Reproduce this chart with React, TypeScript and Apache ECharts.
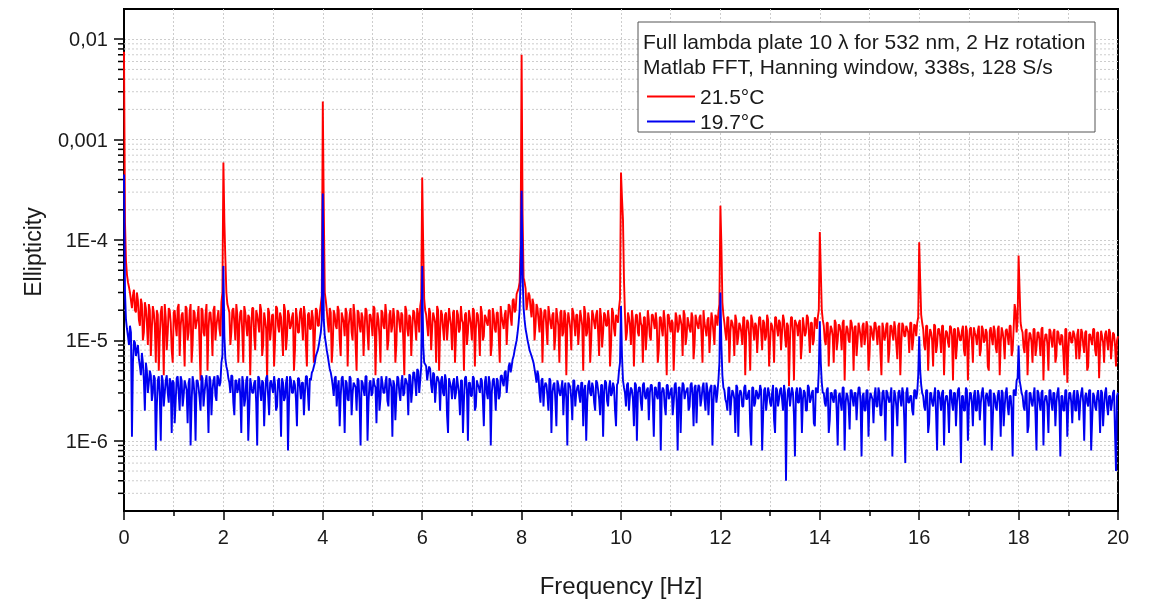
import React, { useEffect, useRef } from 'react';
import * as echarts from 'echarts';

// Ellipticity values in units of 1e-7.
// Each segment spans 2 Hz; "Seg" holds the samples on the segment grid, "Mid" the samples half a step later.
const UNIT = 1e-7;
const SEG_WIDTH_HZ = 2;

const redSeg0 = [75000, 620, 380, 300, 210, 320, 190, 250, 140, 230, 120, 210, 90, 200, 130, 190, 60, 180, 110, 220, 45, 170, 120, 200, 80, 190, 140, 210, 70, 180, 120, 220, 100, 190, 60, 200, 130, 170, 90, 210, 120, 180, 50, 190, 140, 200, 100, 170, 130, 240];
const redSeg1 = [5900, 640, 230, 190, 120, 210, 100, 180, 140, 200, 60, 190, 110, 170, 130, 210, 80, 180, 120, 200, 90, 160, 40, 190, 130, 180, 100, 210, 120, 170, 70, 200, 110, 180, 140, 190, 80, 170, 120, 210, 100, 180, 55, 190, 130, 170, 110, 200, 140, 230];
const redSeg2 = [24000, 300, 200, 120, 190, 90, 180, 130, 200, 70, 170, 110, 190, 140, 210, 100, 180, 50, 190, 120, 170, 130, 200, 80, 180, 110, 210, 120, 160, 60, 190, 130, 180, 100, 200, 140, 170, 90, 190, 120, 180, 45, 200, 110, 170, 130, 190, 100, 180, 220];
const redSeg3 = [4200, 260, 180, 110, 190, 130, 170, 60, 200, 120, 180, 100, 190, 140, 170, 80, 200, 110, 180, 130, 160, 50, 190, 120, 170, 100, 200, 130, 180, 70, 190, 110, 170, 140, 200, 90, 180, 120, 190, 60, 170, 130, 200, 150, 220, 140, 260, 200, 310, 380];
const redSeg4 = [70000, 420, 330, 240, 280, 170, 230, 140, 210, 120, 190, 150, 200, 90, 180, 130, 190, 110, 170, 60, 200, 120, 180, 140, 160, 80, 190, 110, 180, 130, 170, 50, 190, 120, 160, 100, 180, 130, 200, 70, 170, 120, 180, 140, 160, 90, 190, 110, 170, 210];
const redSeg5 = [4700, 1600, 180, 120, 170, 90, 160, 130, 180, 110, 150, 60, 170, 120, 160, 100, 180, 130, 150, 80, 170, 110, 160, 45, 180, 120, 150, 100, 170, 130, 160, 70, 180, 110, 150, 120, 170, 90, 160, 130, 180, 60, 150, 110, 170, 120, 160, 90, 170, 190];
const redSeg6 = [2200, 240, 150, 100, 170, 120, 150, 70, 160, 110, 140, 90, 170, 120, 150, 50, 160, 100, 140, 120, 170, 80, 150, 110, 160, 95, 140, 60, 170, 110, 150, 120, 160, 85, 140, 100, 170, 40, 150, 110, 160, 90, 140, 120, 170, 75, 150, 100, 160, 170];
const redSeg7 = [1200, 200, 140, 90, 150, 110, 130, 60, 150, 100, 140, 80, 160, 110, 130, 95, 150, 50, 140, 100, 130, 85, 150, 110, 140, 70, 130, 100, 150, 90, 140, 45, 130, 110, 150, 80, 140, 100, 130, 65, 150, 95, 140, 110, 130, 75, 150, 100, 140, 150];
const redSeg8 = [950, 180, 130, 80, 140, 100, 120, 55, 140, 90, 130, 75, 140, 100, 120, 85, 135, 40, 130, 90, 120, 100, 140, 70, 125, 95, 135, 60, 120, 90, 140, 80, 130, 100, 120, 50, 135, 90, 125, 75, 140, 95, 120, 65, 130, 90, 140, 80, 230, 120];
const redSeg9 = [700, 150, 120, 75, 130, 90, 115, 60, 130, 85, 120, 70, 135, 95, 115, 50, 125, 85, 130, 70, 120, 90, 110, 45, 130, 80, 120, 95, 115, 65, 130, 85, 120, 75, 125, 55, 115, 90, 130, 70, 120, 85, 110, 60, 125, 80, 120, 90, 115, 55, 110];

const redMid0 = [1500, 450, 340, 250, 280, 200, 300, 160, 260, 100, 240, 150, 230, 70, 220, 140, 200, 50, 190, 130, 230, 80, 210, 150, 60, 200, 110, 230, 140, 190, 55, 210, 120, 230, 90, 190, 150, 220, 40, 200, 110, 230, 130, 190, 70, 220, 140, 200, 110, 300];
const redMid1 = [1500, 300, 210, 90, 200, 150, 230, 60, 190, 120, 220, 140, 180, 45, 210, 110, 200, 150, 230, 70, 190, 130, 210, 100, 180, 55, 220, 140, 190, 110, 230, 80, 200, 130, 170, 50, 210, 120, 190, 150, 220, 90, 180, 130, 200, 60, 210, 140, 190, 280];
const redMid2 = [2000, 250, 150, 210, 60, 200, 140, 220, 100, 190, 150, 210, 55, 180, 120, 230, 90, 200, 140, 190, 70, 210, 120, 180, 150, 220, 45, 190, 110, 200, 140, 230, 80, 180, 120, 210, 60, 200, 150, 190, 100, 220, 130, 180, 70, 200, 140, 210, 120, 260];
const redMid3 = [900, 200, 140, 210, 80, 190, 150, 220, 50, 200, 130, 180, 100, 210, 140, 190, 60, 200, 120, 220, 150, 180, 90, 200, 140, 210, 55, 190, 130, 220, 100, 180, 150, 200, 70, 210, 130, 190, 110, 220, 150, 180, 90, 230, 170, 250, 190, 290, 330, 900];
const redMid4 = [1800, 380, 200, 300, 210, 260, 100, 230, 160, 210, 60, 200, 130, 220, 150, 180, 80, 210, 140, 190, 110, 200, 45, 190, 130, 210, 150, 180, 90, 200, 140, 220, 110, 190, 60, 200, 150, 180, 120, 210, 85, 190, 140, 200, 55, 210, 130, 180, 150, 260];
const redMid5 = [2600, 400, 100, 190, 140, 200, 55, 180, 120, 190, 140, 170, 80, 200, 110, 180, 150, 190, 60, 170, 130, 200, 100, 180, 140, 160, 50, 190, 120, 180, 140, 200, 90, 170, 130, 190, 65, 180, 140, 170, 110, 200, 130, 160, 75, 190, 120, 180, 140, 230];
const redMid6 = [900, 180, 120, 170, 60, 160, 130, 180, 90, 150, 120, 170, 45, 160, 110, 180, 130, 150, 75, 170, 120, 160, 100, 180, 55, 150, 120, 170, 130, 160, 80, 180, 110, 150, 35, 170, 120, 160, 140, 150, 65, 170, 110, 180, 120, 150, 90, 170, 130, 200];
const redMid7 = [500, 160, 100, 150, 55, 140, 110, 160, 80, 145, 120, 150, 40, 140, 100, 160, 120, 135, 70, 150, 110, 140, 90, 155, 50, 140, 110, 150, 120, 135, 75, 150, 100, 145, 60, 140, 115, 155, 90, 140, 45, 150, 110, 140, 120, 150, 80, 145, 110, 170];
const redMid8 = [400, 150, 90, 140, 50, 130, 100, 145, 75, 130, 110, 140, 45, 125, 95, 140, 110, 130, 65, 135, 100, 125, 80, 140, 40, 130, 100, 135, 110, 125, 70, 140, 95, 130, 55, 125, 105, 140, 85, 130, 45, 135, 100, 125, 110, 140, 70, 130, 200, 160];
const redMid9 = [320, 130, 85, 125, 45, 120, 95, 130, 70, 120, 100, 130, 40, 115, 90, 130, 100, 120, 60, 125, 95, 115, 75, 130, 38, 120, 95, 125, 100, 115, 65, 130, 90, 120, 50, 115, 100, 130, 80, 120, 42, 125, 95, 115, 100, 130, 65, 120, 90, 100];

const blueSeg0 = [4500, 160, 110, 140, 11, 100, 70, 90, 55, 75, 40, 60, 30, 50, 25, 45, 8, 40, 28, 45, 22, 40, 30, 42, 12, 38, 25, 44, 20, 40, 28, 36, 15, 42, 24, 38, 10, 40, 27, 45, 22, 38, 30, 44, 18, 40, 28, 45, 35, 60];
const blueSeg1 = [550, 65, 50, 38, 45, 24, 40, 30, 42, 12, 38, 26, 44, 20, 36, 30, 40, 9, 42, 25, 38, 28, 45, 18, 40, 30, 36, 22, 42, 11, 38, 27, 44, 24, 40, 30, 36, 14, 42, 26, 38, 30, 44, 20, 40, 50, 60, 75, 90, 120];
const blueSeg2 = [2900, 110, 80, 60, 48, 35, 42, 22, 40, 28, 44, 12, 38, 25, 42, 30, 36, 20, 40, 9, 38, 28, 44, 24, 40, 30, 36, 15, 42, 26, 38, 30, 44, 22, 40, 11, 36, 28, 42, 25, 45, 30, 40, 18, 44, 32, 48, 28, 50, 40];
const blueSeg3 = [550, 60, 55, 48, 52, 30, 46, 35, 42, 20, 44, 28, 40, 12, 38, 26, 42, 30, 36, 18, 40, 25, 44, 10, 38, 28, 42, 22, 36, 30, 40, 14, 44, 26, 38, 30, 42, 20, 40, 28, 45, 35, 50, 40, 60, 55, 70, 90, 120, 200];
const blueSeg4 = [3100, 210, 130, 100, 80, 70, 60, 45, 50, 30, 40, 22, 38, 28, 42, 12, 36, 25, 40, 30, 34, 18, 38, 9, 36, 26, 40, 22, 34, 28, 38, 14, 36, 24, 40, 28, 34, 20, 38, 26, 36, 11, 40, 25, 34, 28, 38, 20, 36, 50];
const blueSeg5 = [220, 40, 30, 36, 20, 34, 26, 38, 10, 34, 24, 36, 28, 32, 16, 36, 24, 34, 28, 38, 8, 34, 22, 36, 26, 32, 18, 36, 24, 34, 12, 38, 26, 32, 20, 36, 28, 34, 15, 36, 22, 34, 26, 38, 18, 34, 9, 36, 24, 40];
const blueSeg6 = [300, 45, 32, 24, 34, 18, 32, 26, 36, 11, 32, 22, 34, 26, 30, 14, 34, 22, 32, 26, 36, 8, 32, 20, 34, 24, 30, 16, 34, 22, 32, 26, 36, 4, 32, 22, 34, 18, 30, 24, 34, 12, 32, 20, 36, 24, 30, 15, 34, 30];
const blueSeg7 = [155, 38, 30, 22, 34, 16, 30, 24, 32, 9, 30, 20, 34, 24, 28, 13, 32, 22, 30, 26, 34, 7, 30, 20, 32, 24, 28, 15, 34, 22, 30, 18, 32, 10, 30, 24, 34, 20, 28, 14, 32, 22, 30, 6, 34, 24, 28, 18, 32, 30];
const blueSeg8 = [110, 36, 28, 20, 32, 15, 30, 22, 34, 8, 30, 20, 32, 24, 28, 12, 32, 20, 30, 24, 34, 6, 28, 20, 32, 22, 30, 14, 32, 20, 28, 24, 34, 9, 30, 22, 32, 16, 28, 20, 32, 11, 30, 22, 34, 18, 28, 7, 32, 40];
const blueSeg9 = [89, 35, 28, 20, 32, 14, 30, 22, 34, 8, 30, 20, 32, 24, 28, 12, 32, 20, 30, 24, 34, 7, 28, 20, 32, 22, 30, 15, 32, 20, 28, 24, 34, 10, 30, 22, 32, 16, 28, 20, 32, 12, 30, 22, 34, 18, 28, 24, 32, 5, 30];

const blueMid0 = [300, 130, 90, 120, 60, 95, 80, 65, 45, 60, 20, 50, 38, 45, 30, 42, 22, 44, 10, 40, 30, 45, 24, 38, 40, 15, 42, 30, 44, 22, 40, 32, 38, 9, 44, 28, 40, 34, 20, 42, 30, 45, 12, 40, 32, 44, 25, 42, 38, 70];
const blueMid1 = [110, 55, 42, 30, 44, 18, 40, 34, 28, 44, 22, 40, 10, 42, 30, 38, 24, 44, 32, 40, 14, 42, 28, 38, 34, 44, 20, 40, 30, 42, 25, 38, 8, 44, 30, 40, 26, 42, 34, 38, 18, 44, 30, 42, 48, 55, 70, 80, 105, 160];
const blueMid2 = [160, 95, 70, 52, 42, 28, 44, 34, 14, 42, 30, 40, 26, 44, 18, 38, 34, 42, 24, 40, 32, 44, 10, 38, 28, 42, 34, 40, 20, 44, 30, 38, 25, 42, 34, 40, 16, 44, 30, 38, 28, 42, 36, 46, 24, 48, 38, 52, 30, 55];
const blueMid3 = [90, 58, 40, 55, 36, 48, 24, 44, 38, 40, 30, 46, 18, 42, 34, 38, 26, 44, 30, 40, 12, 42, 32, 38, 28, 44, 20, 40, 34, 42, 26, 38, 30, 44, 9, 40, 32, 42, 26, 44, 38, 48, 30, 55, 48, 65, 80, 100, 150, 400];
const blueMid4 = [450, 160, 115, 90, 75, 65, 52, 38, 44, 24, 42, 34, 36, 20, 40, 30, 38, 14, 36, 28, 40, 32, 26, 38, 34, 16, 40, 30, 36, 24, 38, 32, 10, 36, 30, 38, 24, 40, 32, 18, 36, 30, 38, 22, 40, 30, 34, 14, 38, 60];
const blueMid5 = [70, 34, 22, 38, 28, 32, 14, 36, 30, 34, 20, 38, 26, 34, 30, 36, 11, 34, 26, 38, 30, 32, 18, 36, 28, 34, 24, 38, 8, 34, 28, 36, 30, 34, 22, 38, 14, 36, 30, 34, 26, 38, 20, 32, 30, 36, 24, 34, 30, 60];
const blueMid6 = [90, 34, 26, 20, 34, 26, 30, 12, 34, 28, 30, 22, 36, 26, 32, 9, 34, 24, 30, 28, 32, 18, 34, 26, 30, 22, 36, 12, 32, 26, 34, 20, 30, 24, 34, 28, 30, 7, 34, 24, 32, 26, 30, 20, 34, 26, 32, 14, 32, 50];
const blueMid7 = [60, 30, 24, 32, 12, 30, 26, 32, 20, 28, 24, 34, 8, 30, 22, 32, 26, 30, 16, 34, 24, 28, 20, 32, 11, 30, 26, 28, 22, 34, 18, 30, 24, 32, 26, 28, 7, 32, 22, 30, 26, 34, 16, 30, 24, 28, 20, 32, 26, 45];
const blueMid8 = [50, 30, 22, 32, 12, 30, 24, 28, 18, 32, 26, 30, 9, 28, 22, 32, 24, 30, 14, 32, 22, 28, 20, 34, 10, 30, 24, 28, 20, 32, 16, 30, 24, 28, 26, 32, 8, 30, 22, 28, 24, 32, 14, 30, 22, 28, 20, 32, 28, 42];
const blueMid9 = [40, 30, 22, 30, 12, 30, 24, 28, 18, 32, 24, 30, 9, 28, 22, 32, 24, 30, 14, 30, 22, 28, 20, 32, 11, 30, 24, 28, 20, 32, 16, 30, 24, 28, 24, 32, 8, 30, 22, 28, 24, 32, 14, 30, 22, 28, 20, 30, 12, 28];

const redSegments = [redSeg0, redSeg1, redSeg2, redSeg3, redSeg4, redSeg5, redSeg6, redSeg7, redSeg8, redSeg9];
const redMids = [redMid0, redMid1, redMid2, redMid3, redMid4, redMid5, redMid6, redMid7, redMid8, redMid9];
const blueSegments = [blueSeg0, blueSeg1, blueSeg2, blueSeg3, blueSeg4, blueSeg5, blueSeg6, blueSeg7, blueSeg8, blueSeg9];
const blueMids = [blueMid0, blueMid1, blueMid2, blueMid3, blueMid4, blueMid5, blueMid6, blueMid7, blueMid8, blueMid9];

const seriesNames = ['21.5°C', '19.7°C'];
const legendTitleLines = [
  'Full lambda plate 10 \u03bb for 532 nm, 2 Hz rotation',
  'Matlab FFT, Hanning window, 338s, 128 S/s',
];

const X_MIN = 0;
const X_MAX = 20;
const X_INTERVAL = 2;
const Y_MIN = 2e-7;
const Y_MAX = 2e-2;
const yTickLabels = ['1E-6', '1E-5', '1E-4', '0,001', '0,01'];
const Y_LABEL_FIRST_EXP = -6;
const minorMultipliers = [2, 3, 4, 5, 6, 7, 8, 9];
const minorDecades = [1e-7, 1e-6, 1e-5, 1e-4, 1e-3];

const FONT = "'Liberation Sans', Arial, sans-serif";
const TEXT = '#1a1a1a';

function toPoints(segs: number[][], mids: number[][]): number[][] {
  const pts: number[][] = [];
  segs.forEach((seg, k) => {
    const last = k === segs.length - 1;
    const step = SEG_WIDTH_HZ / (last ? seg.length - 1 : seg.length);
    seg.forEach((v, i) => {
      pts.push([k * SEG_WIDTH_HZ + i * step, v * UNIT]);
      const m = mids[k][i];
      if (m !== undefined && (!last || i < seg.length - 1)) {
        pts.push([k * SEG_WIDTH_HZ + (i + 0.5) * step, m * UNIT]);
      }
    });
  });
  return pts;
}

export default function App() {
  const ref = useRef<HTMLDivElement>(null);
  useEffect(() => {
    const chart = echarts.init(ref.current!, null, { renderer: 'svg' });
    const minorValues: number[][] = [];
    minorDecades.forEach((d) =>
      minorMultipliers.forEach((m) => {
        const v = m * d;
        if (v > Y_MIN * 1.001 && v < Y_MAX * 0.999) minorValues.push([X_MIN, v]);
      })
    );
    const gridLine = { color: '#cdcdcd', type: [2, 2] as any, width: 1 };
    const option: any = {
      animation: false,
      textStyle: { fontFamily: FONT },
      grid: { left: 124, right: 32, top: 9, bottom: 76, show: true, borderColor: '#000', borderWidth: 2, backgroundColor: 'transparent' },
      legend: {
        data: seriesNames,
        orient: 'vertical',
        left: 642,
        top: 81,
        icon: 'rect',
        itemWidth: 48,
        itemHeight: 2,
        itemGap: 4,
        z: 20,
        textStyle: { fontSize: 21, lineHeight: 21, color: TEXT, fontFamily: FONT },
      },
      graphic: [
        { type: 'rect', z: 10, shape: { x: 638, y: 22, width: 457, height: 110 }, style: { fill: '#fff', stroke: '#555', lineWidth: 1 } },
        { type: 'text', z: 11, x: 643, y: 41, style: { text: legendTitleLines[0], font: `21px ${FONT}`, fill: TEXT, verticalAlign: 'middle' } },
        { type: 'text', z: 11, x: 643, y: 66, style: { text: legendTitleLines[1], font: `21px ${FONT}`, fill: TEXT, verticalAlign: 'middle' } },
        { type: 'text', z: 11, x: 33, y: 252, rotation: Math.PI / 2, style: { text: 'Ellipticity', font: `23px ${FONT}`, fill: TEXT, align: 'center', verticalAlign: 'middle' } },
      ],
      xAxis: {
        type: 'value',
        min: X_MIN,
        max: X_MAX,
        interval: X_INTERVAL,
        name: 'Frequency [Hz]',
        nameLocation: 'middle',
        nameGap: 62,
        nameTextStyle: { fontSize: 24, color: TEXT, fontFamily: FONT },
        axisLine: { show: true, lineStyle: { color: '#000', width: 2 } },
        axisTick: { show: true, length: 9, lineStyle: { color: '#000', width: 1.5 } },
        minorTick: { show: true, splitNumber: 2, length: 5, lineStyle: { color: '#000', width: 1.5 } },
        axisLabel: { fontSize: 20, color: TEXT, margin: 16, fontFamily: FONT },
        splitLine: { show: true, showMinLine: false, showMaxLine: false, lineStyle: gridLine },
        minorSplitLine: { show: true, lineStyle: gridLine },
      },
      yAxis: {
        type: 'log',
        logBase: 10,
        min: Y_MIN,
        max: Y_MAX,
        axisLine: { show: true, lineStyle: { color: '#000', width: 2 } },
        axisTick: { show: true, length: 10, lineStyle: { color: '#000', width: 1.5 } },
        axisLabel: {
          fontSize: 20,
          color: TEXT,
          margin: 16,
          fontFamily: FONT,
          showMinLabel: false,
          showMaxLabel: false,
          formatter: (v: number) => {
            const lg = Math.log10(v);
            const e = Math.round(lg);
            if (Math.abs(lg - e) > 0.01) return '';
            return yTickLabels[e - Y_LABEL_FIRST_EXP] ?? '';
          },
        },
        splitLine: { show: true, showMinLine: false, showMaxLine: false, lineStyle: gridLine },
      },
      series: [
        {
          type: 'custom',
          name: 'minor',
          silent: true,
          z: 1,
          clip: false,
          data: minorValues,
          encode: { x: 0, y: 1 },
          renderItem: (params: any, api: any) => {
            const v = api.value(1);
            const p0 = api.coord([X_MIN, v]);
            const p1 = api.coord([X_MAX, v]);
            return {
              type: 'group',
              children: [
                { type: 'line', shape: { x1: p0[0], y1: p0[1], x2: p1[0], y2: p1[1] }, style: { stroke: '#cdcdcd', lineWidth: 1, lineDash: [2, 2] } },
                { type: 'line', shape: { x1: p0[0] - 6, y1: p0[1], x2: p0[0], y2: p0[1] }, style: { stroke: '#000', lineWidth: 1.5 } },
              ],
            };
          },
        },
        {
          type: 'line',
          name: seriesNames[0],
          data: toPoints(redSegments, redMids),
          symbol: 'none',
          z: 3,
          lineStyle: { color: '#ff0000', width: 1.9 },
          itemStyle: { color: '#ff0000' },
        },
        {
          type: 'line',
          name: seriesNames[1],
          data: toPoints(blueSegments, blueMids),
          symbol: 'none',
          z: 4,
          lineStyle: { color: '#0000f0', width: 1.9 },
          itemStyle: { color: '#0000f0' },
        },
      ],
    };
    chart.setOption(option);
    return () => chart.dispose();
  }, []);
  return <div ref={ref} style={{ position: 'fixed', left: 0, top: 0, width: 1150, height: 602 }} />;
}
